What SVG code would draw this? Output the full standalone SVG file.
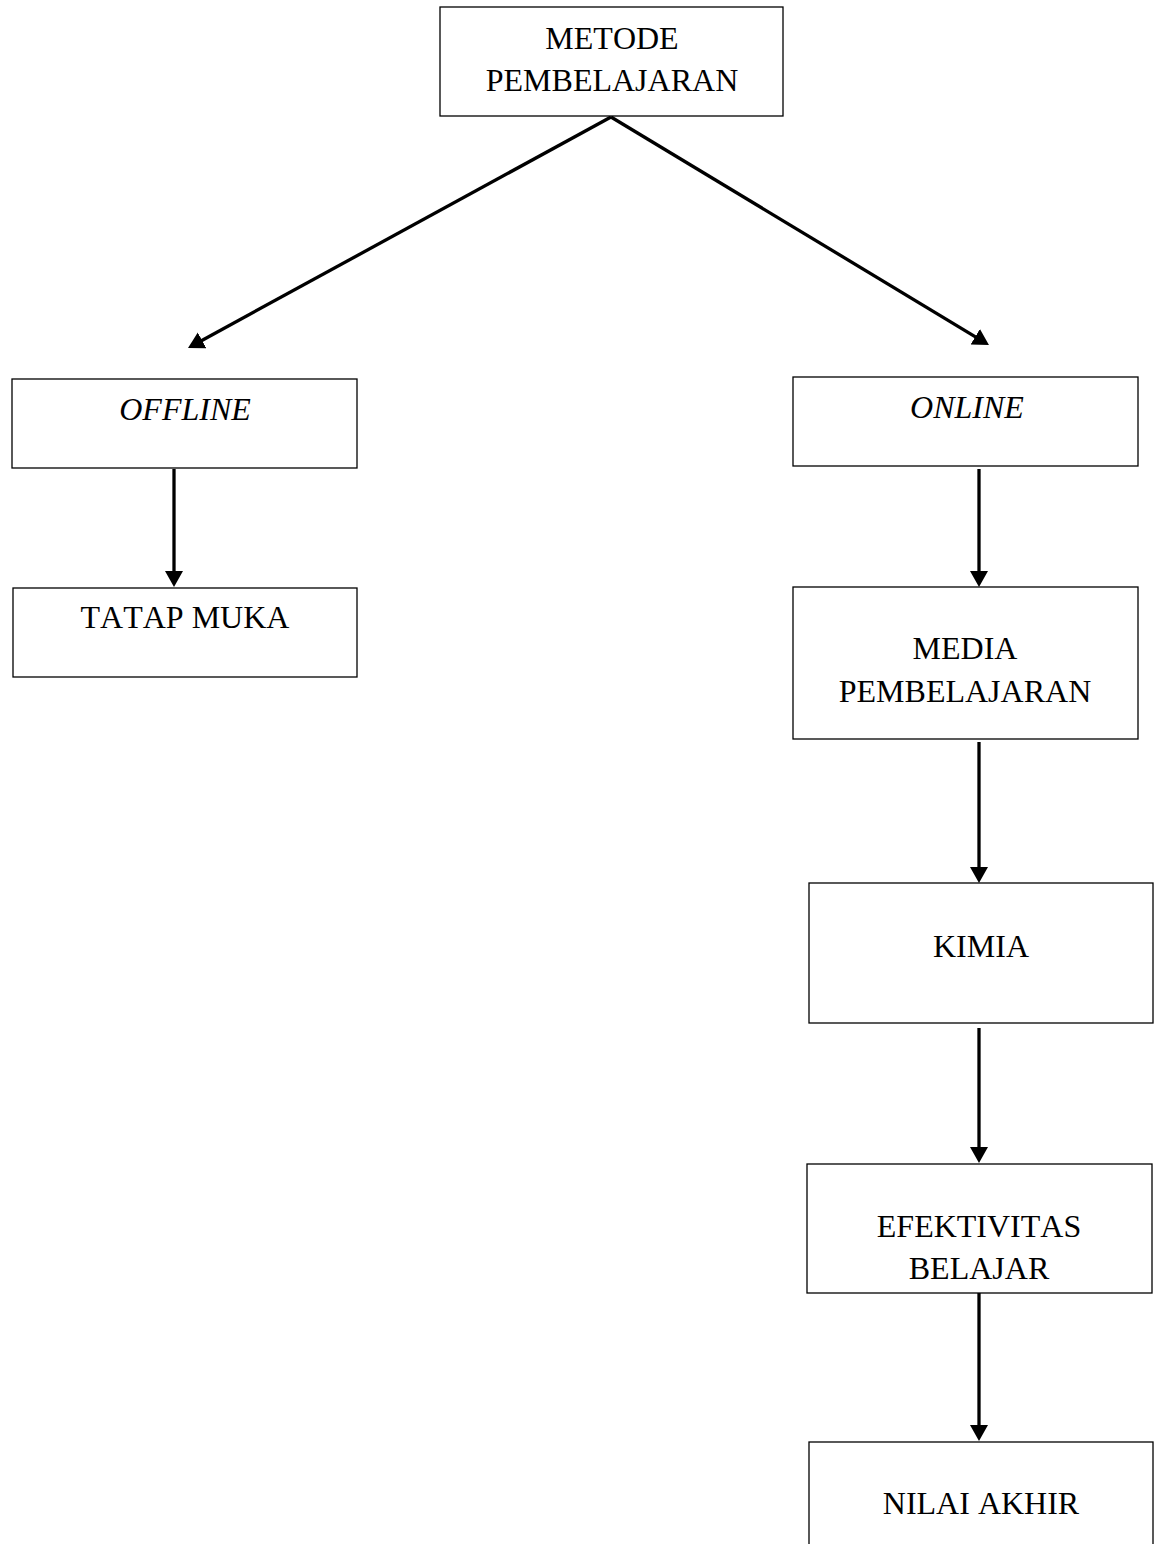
<svg xmlns="http://www.w3.org/2000/svg" width="1162" height="1544" viewBox="0 0 1162 1544">
  <style>
    .box { fill: #ffffff; stroke: #000000; stroke-width: 1.3; }
    .lbl { font-family: "Liberation Serif", "Times New Roman", serif; font-size: 32px; fill: #000000; text-anchor: middle; font-kerning: none; }
    .it { font-style: italic; }
    .conn { stroke: #000000; stroke-width: 3.3; fill: none; marker-end: url(#arrow); }
  </style>
  <defs>
    <marker id="arrow" markerUnits="userSpaceOnUse" markerWidth="18" markerHeight="20" refX="6" refY="9" orient="auto" viewBox="0 0 18 20">
      <path d="M0,0 L16,9 L0,18 z" fill="#000000"/>
    </marker>
  </defs>
  <rect x="0" y="0" width="1162" height="1544" fill="#ffffff"/>

  <g id="connectors">
    <line class="conn" x1="611" y1="117" x2="196.8" y2="343.2"/>
    <line class="conn" x1="611" y1="117" x2="980.4" y2="339.8"/>
    <line class="conn" x1="174" y1="469" x2="174" y2="577"/>
    <line class="conn" x1="979" y1="469" x2="979" y2="577"/>
    <line class="conn" x1="979" y1="742" x2="979" y2="873"/>
    <line class="conn" x1="979" y1="1028" x2="979" y2="1153"/>
    <line class="conn" x1="979" y1="1293" x2="979" y2="1431"/>
  </g>

  <g id="node-metode">
    <rect class="box" x="440" y="7" width="343" height="109"/>
    <text class="lbl" x="612" y="49">METODE</text>
    <text class="lbl" x="612" y="91">PEMBELAJARAN</text>
  </g>
  <g id="node-offline">
    <rect class="box" x="12" y="379" width="345" height="89"/>
    <text class="lbl it" x="185" y="420">OFFLINE</text>
  </g>
  <g id="node-tatap-muka">
    <rect class="box" x="13" y="588" width="344" height="89"/>
    <text class="lbl" x="185" y="628">TATAP MUKA</text>
  </g>
  <g id="node-online">
    <rect class="box" x="793" y="377" width="345" height="89"/>
    <text class="lbl it" x="967" y="418">ONLINE</text>
  </g>
  <g id="node-media">
    <rect class="box" x="793" y="587" width="345" height="152"/>
    <text class="lbl" x="965" y="659">MEDIA</text>
    <text class="lbl" x="965" y="702">PEMBELAJARAN</text>
  </g>
  <g id="node-kimia">
    <rect class="box" x="809" y="883" width="344" height="140"/>
    <text class="lbl" x="981" y="957">KIMIA</text>
  </g>
  <g id="node-efektivitas">
    <rect class="box" x="807" y="1164" width="345" height="129"/>
    <text class="lbl" x="979" y="1237">EFEKTIVITAS</text>
    <text class="lbl" x="979" y="1279">BELAJAR</text>
  </g>
  <g id="node-nilai">
    <rect class="box" x="809" y="1442" width="344" height="110"/>
    <text class="lbl" x="981" y="1514">NILAI AKHIR</text>
  </g>
</svg>
